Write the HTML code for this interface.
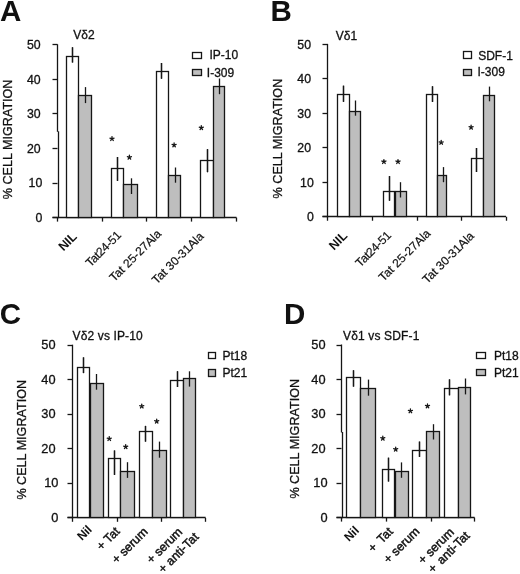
<!DOCTYPE html>
<html><head><meta charset="utf-8"><style>
html,body{margin:0;padding:0;background:#fff;}
svg{display:block;filter:blur(0.4px);}
text{font-family:"Liberation Sans",sans-serif;fill:#111;}
</style></head><body>
<svg width="520" height="574" viewBox="0 0 520 574">
<rect x="0" y="0" width="520" height="574" fill="#fff"/>
<text x="0.0" y="21.4" font-size="29.5" text-anchor="start" font-weight="bold" >A</text>
<text x="73.3" y="38.8" font-size="12" text-anchor="start" font-weight="normal"  stroke="#111" stroke-width="0.3">V&#948;2</text>
<text transform="translate(12.0,199.2) rotate(-90)" font-size="12.6" stroke="#111" stroke-width="0.3">% CELL MIGRATION</text>
<text x="42.3" y="221.8" font-size="12.3" text-anchor="end" font-weight="normal"  stroke="#111" stroke-width="0.3">0</text>
<line x1="52.5" y1="217.5" x2="57.5" y2="217.5" stroke="#161616" stroke-width="1.3"/>
<text x="42.3" y="187.24" font-size="12.3" text-anchor="end" font-weight="normal"  stroke="#111" stroke-width="0.3">10</text>
<line x1="52.5" y1="183.5" x2="57.5" y2="183.5" stroke="#161616" stroke-width="1.3"/>
<text x="40.6" y="152.68" font-size="12.3" text-anchor="end" font-weight="normal"  stroke="#111" stroke-width="0.3">20</text>
<line x1="52.5" y1="148.5" x2="57.5" y2="148.5" stroke="#161616" stroke-width="1.3"/>
<text x="40.6" y="118.12" font-size="12.3" text-anchor="end" font-weight="normal"  stroke="#111" stroke-width="0.3">30</text>
<line x1="52.5" y1="113.5" x2="57.5" y2="113.5" stroke="#161616" stroke-width="1.3"/>
<text x="40.6" y="83.56" font-size="12.3" text-anchor="end" font-weight="normal"  stroke="#111" stroke-width="0.3">40</text>
<line x1="52.5" y1="79.5" x2="57.5" y2="79.5" stroke="#161616" stroke-width="1.3"/>
<text x="40.6" y="49.0" font-size="12.3" text-anchor="end" font-weight="normal"  stroke="#111" stroke-width="0.3">50</text>
<line x1="52.5" y1="44.5" x2="57.5" y2="44.5" stroke="#161616" stroke-width="1.3"/>
<line x1="57.5" y1="44.3" x2="57.5" y2="131.8" stroke="#161616" stroke-width="1.3"/>
<line x1="58.5" y1="131.3" x2="58.5" y2="218.2" stroke="#161616" stroke-width="1.3"/>
<line x1="52.5" y1="217.5" x2="236.5" y2="217.5" stroke="#161616" stroke-width="1.3"/>
<line x1="57.5" y1="217.6" x2="57.5" y2="221.6" stroke="#161616" stroke-width="1.3"/>
<line x1="102.5" y1="217.6" x2="102.5" y2="221.6" stroke="#161616" stroke-width="1.3"/>
<line x1="146.5" y1="217.6" x2="146.5" y2="221.6" stroke="#161616" stroke-width="1.3"/>
<line x1="191.5" y1="217.6" x2="191.5" y2="221.6" stroke="#161616" stroke-width="1.3"/>
<line x1="236.5" y1="217.6" x2="236.5" y2="221.6" stroke="#161616" stroke-width="1.3"/>
<rect x="66.5" y="56.5" width="12.00" height="161.00" fill="#fff" stroke="#161616" stroke-width="1.3"/>
<rect x="78.5" y="95.5" width="13.00" height="122.00" fill="#bebebe" stroke="#161616" stroke-width="1.3"/>
<line x1="72.5" y1="47.3" x2="72.5" y2="62.5" stroke="#161616" stroke-width="1.3"/>
<line x1="72.5" y1="47.3" x2="72.5" y2="62.5" stroke="#161616" stroke-width="1.3"/>
<line x1="85.5" y1="87.1" x2="85.5" y2="103.1" stroke="#161616" stroke-width="1.3"/>
<rect x="111.5" y="168.5" width="12.00" height="49.00" fill="#fff" stroke="#161616" stroke-width="1.3"/>
<rect x="123.5" y="184.5" width="14.00" height="33.00" fill="#bebebe" stroke="#161616" stroke-width="1.3"/>
<line x1="117.5" y1="157" x2="117.5" y2="180.9" stroke="#161616" stroke-width="1.3"/>
<line x1="117.5" y1="157" x2="117.5" y2="180.9" stroke="#161616" stroke-width="1.3"/>
<line x1="131.5" y1="178.3" x2="131.5" y2="194" stroke="#161616" stroke-width="1.3"/>
<rect x="156.5" y="71.5" width="12.00" height="146.00" fill="#fff" stroke="#161616" stroke-width="1.3"/>
<rect x="168.5" y="175.5" width="12.00" height="42.00" fill="#bebebe" stroke="#161616" stroke-width="1.3"/>
<line x1="161.5" y1="63" x2="161.5" y2="78.7" stroke="#161616" stroke-width="1.3"/>
<line x1="161.5" y1="63" x2="161.5" y2="78.7" stroke="#161616" stroke-width="1.3"/>
<line x1="175.5" y1="167.5" x2="175.5" y2="182.7" stroke="#161616" stroke-width="1.3"/>
<rect x="200.5" y="160.5" width="13.00" height="57.00" fill="#fff" stroke="#161616" stroke-width="1.3"/>
<rect x="213.5" y="86.5" width="11.00" height="131.00" fill="#bebebe" stroke="#161616" stroke-width="1.3"/>
<line x1="207.5" y1="149.2" x2="207.5" y2="172.2" stroke="#161616" stroke-width="1.3"/>
<line x1="207.5" y1="149.2" x2="207.5" y2="172.2" stroke="#161616" stroke-width="1.3"/>
<line x1="219.5" y1="78.5" x2="219.5" y2="94.2" stroke="#161616" stroke-width="1.3"/>
<path d="M112.00,138.75L112.00,136.60M112.00,138.75L114.04,138.09M112.00,138.75L109.96,138.09M112.00,138.75L110.74,140.49M112.00,138.75L113.26,140.49" stroke="#161616" stroke-width="1.3" stroke-linecap="round" fill="none"/>
<path d="M129.40,157.40L129.40,155.25M129.40,157.40L131.44,156.74M129.40,157.40L127.36,156.74M129.40,157.40L128.14,159.14M129.40,157.40L130.66,159.14" stroke="#161616" stroke-width="1.3" stroke-linecap="round" fill="none"/>
<path d="M174.10,145.10L174.10,142.95M174.10,145.10L176.14,144.44M174.10,145.10L172.06,144.44M174.10,145.10L172.84,146.84M174.10,145.10L175.36,146.84" stroke="#161616" stroke-width="1.3" stroke-linecap="round" fill="none"/>
<path d="M201.30,127.80L201.30,125.65M201.30,127.80L203.34,127.14M201.30,127.80L199.26,127.14M201.30,127.80L200.04,129.54M201.30,127.80L202.56,129.54" stroke="#161616" stroke-width="1.3" stroke-linecap="round" fill="none"/>
<rect x="192.5" y="52.5" width="9.00" height="6.00" fill="#fff" stroke="#161616" stroke-width="1.3"/>
<rect x="192.5" y="69.5" width="9.00" height="6.00" fill="#bebebe" stroke="#161616" stroke-width="1.3"/>
<text x="209.5" y="59.0" font-size="12" text-anchor="start" font-weight="normal"  stroke="#111" stroke-width="0.3">IP-10</text>
<text x="206.8" y="76.8" font-size="12" text-anchor="start" font-weight="normal"  stroke="#111" stroke-width="0.3">I-309</text>
<text x="270.6" y="21.4" font-size="29.5" text-anchor="start" font-weight="bold" >B</text>
<text x="335.8" y="40.0" font-size="12" text-anchor="start" font-weight="normal"  stroke="#111" stroke-width="0.3">V&#948;1</text>
<text transform="translate(281.8,198.4) rotate(-90)" font-size="12.6" stroke="#111" stroke-width="0.3">% CELL MIGRATION</text>
<text x="313.8" y="220.95" font-size="12.3" text-anchor="end" font-weight="normal"  stroke="#111" stroke-width="0.3">0</text>
<line x1="322.5" y1="216.5" x2="327.5" y2="216.5" stroke="#161616" stroke-width="1.3"/>
<text x="313.8" y="186.5" font-size="12.3" text-anchor="end" font-weight="normal"  stroke="#111" stroke-width="0.3">10</text>
<line x1="322.5" y1="182.5" x2="327.5" y2="182.5" stroke="#161616" stroke-width="1.3"/>
<text x="311.0" y="152.05" font-size="12.3" text-anchor="end" font-weight="normal"  stroke="#111" stroke-width="0.3">20</text>
<line x1="322.5" y1="147.5" x2="327.5" y2="147.5" stroke="#161616" stroke-width="1.3"/>
<text x="311.0" y="117.6" font-size="12.3" text-anchor="end" font-weight="normal"  stroke="#111" stroke-width="0.3">30</text>
<line x1="322.5" y1="113.5" x2="327.5" y2="113.5" stroke="#161616" stroke-width="1.3"/>
<text x="311.0" y="83.15" font-size="12.3" text-anchor="end" font-weight="normal"  stroke="#111" stroke-width="0.3">40</text>
<line x1="322.5" y1="78.5" x2="327.5" y2="78.5" stroke="#161616" stroke-width="1.3"/>
<text x="311.0" y="48.7" font-size="12.3" text-anchor="end" font-weight="normal"  stroke="#111" stroke-width="0.3">50</text>
<line x1="322.5" y1="44.5" x2="327.5" y2="44.5" stroke="#161616" stroke-width="1.3"/>
<line x1="327.5" y1="43.9" x2="327.5" y2="217.35" stroke="#161616" stroke-width="1.3"/>
<line x1="322.5" y1="216.5" x2="506" y2="216.5" stroke="#161616" stroke-width="1.3"/>
<line x1="327.5" y1="216.75" x2="327.5" y2="220.75" stroke="#161616" stroke-width="1.3"/>
<line x1="372.5" y1="216.75" x2="372.5" y2="220.75" stroke="#161616" stroke-width="1.3"/>
<line x1="417.5" y1="216.75" x2="417.5" y2="220.75" stroke="#161616" stroke-width="1.3"/>
<line x1="461.5" y1="216.75" x2="461.5" y2="220.75" stroke="#161616" stroke-width="1.3"/>
<line x1="506.5" y1="216.75" x2="506.5" y2="220.75" stroke="#161616" stroke-width="1.3"/>
<rect x="337.5" y="94.5" width="12.00" height="122.00" fill="#fff" stroke="#161616" stroke-width="1.3"/>
<rect x="349.5" y="111.5" width="11.00" height="105.00" fill="#bebebe" stroke="#161616" stroke-width="1.3"/>
<line x1="343.5" y1="85.7" x2="343.5" y2="101.8" stroke="#161616" stroke-width="1.3"/>
<line x1="343.5" y1="85.7" x2="343.5" y2="101.8" stroke="#161616" stroke-width="1.3"/>
<line x1="355.5" y1="100.5" x2="355.5" y2="115.7" stroke="#161616" stroke-width="1.3"/>
<rect x="383.5" y="191.5" width="11.00" height="25.00" fill="#fff" stroke="#161616" stroke-width="1.3"/>
<rect x="395.5" y="191.5" width="11.00" height="25.00" fill="#bebebe" stroke="#161616" stroke-width="1.3"/>
<line x1="389.5" y1="176.1" x2="389.5" y2="200.7" stroke="#161616" stroke-width="1.3"/>
<line x1="389.5" y1="176.1" x2="389.5" y2="200.7" stroke="#161616" stroke-width="1.3"/>
<line x1="400.5" y1="182.2" x2="400.5" y2="197.5" stroke="#161616" stroke-width="1.3"/>
<rect x="426.5" y="94.5" width="11.00" height="122.00" fill="#fff" stroke="#161616" stroke-width="1.3"/>
<rect x="437.5" y="175.5" width="9.00" height="41.00" fill="#bebebe" stroke="#161616" stroke-width="1.3"/>
<line x1="432.5" y1="86.3" x2="432.5" y2="101.9" stroke="#161616" stroke-width="1.3"/>
<line x1="432.5" y1="86.3" x2="432.5" y2="101.9" stroke="#161616" stroke-width="1.3"/>
<line x1="443.5" y1="167.1" x2="443.5" y2="182.2" stroke="#161616" stroke-width="1.3"/>
<rect x="471.5" y="158.5" width="12.00" height="58.00" fill="#fff" stroke="#161616" stroke-width="1.3"/>
<rect x="483.5" y="95.5" width="11.00" height="121.00" fill="#bebebe" stroke="#161616" stroke-width="1.3"/>
<line x1="476.5" y1="148" x2="476.5" y2="172" stroke="#161616" stroke-width="1.3"/>
<line x1="476.5" y1="148" x2="476.5" y2="172" stroke="#161616" stroke-width="1.3"/>
<line x1="489.5" y1="86.6" x2="489.5" y2="101.3" stroke="#161616" stroke-width="1.3"/>
<path d="M383.90,161.70L383.90,159.55M383.90,161.70L385.94,161.04M383.90,161.70L381.86,161.04M383.90,161.70L382.64,163.44M383.90,161.70L385.16,163.44" stroke="#161616" stroke-width="1.3" stroke-linecap="round" fill="none"/>
<path d="M398.00,161.70L398.00,159.55M398.00,161.70L400.04,161.04M398.00,161.70L395.96,161.04M398.00,161.70L396.74,163.44M398.00,161.70L399.26,163.44" stroke="#161616" stroke-width="1.3" stroke-linecap="round" fill="none"/>
<path d="M441.20,142.50L441.20,140.35M441.20,142.50L443.24,141.84M441.20,142.50L439.16,141.84M441.20,142.50L439.94,144.24M441.20,142.50L442.46,144.24" stroke="#161616" stroke-width="1.3" stroke-linecap="round" fill="none"/>
<path d="M471.10,127.40L471.10,125.25M471.10,127.40L473.14,126.74M471.10,127.40L469.06,126.74M471.10,127.40L469.84,129.14M471.10,127.40L472.36,129.14" stroke="#161616" stroke-width="1.3" stroke-linecap="round" fill="none"/>
<rect x="463.5" y="51.5" width="8.00" height="7.00" fill="#fff" stroke="#161616" stroke-width="1.3"/>
<rect x="463.5" y="69.5" width="8.00" height="6.00" fill="#bebebe" stroke="#161616" stroke-width="1.3"/>
<text x="478.2" y="59.5" font-size="12" text-anchor="start" font-weight="normal"  stroke="#111" stroke-width="0.3">SDF-1</text>
<text x="477.5" y="76.3" font-size="12" text-anchor="start" font-weight="normal"  stroke="#111" stroke-width="0.3">I-309</text>
<text x="-0.3" y="324.2" font-size="29.5" text-anchor="start" font-weight="bold" >C</text>
<text x="72.6" y="339.6" font-size="12" text-anchor="start" font-weight="normal" letter-spacing="0.12" stroke="#111" stroke-width="0.3">V&#948;2 vs IP-10</text>
<text transform="translate(26.4,499.6) rotate(-90)" font-size="12.6" stroke="#111" stroke-width="0.3">% CELL MIGRATION</text>
<text x="58.4" y="521.8" font-size="12.8" text-anchor="end" font-weight="normal"  stroke="#111" stroke-width="0.3">0</text>
<line x1="67.5" y1="517.5" x2="72.5" y2="517.5" stroke="#161616" stroke-width="1.3"/>
<text x="58.4" y="487.3" font-size="12.8" text-anchor="end" font-weight="normal"  stroke="#111" stroke-width="0.3">10</text>
<line x1="67.5" y1="483.5" x2="72.5" y2="483.5" stroke="#161616" stroke-width="1.3"/>
<text x="55.6" y="452.8" font-size="12.8" text-anchor="end" font-weight="normal"  stroke="#111" stroke-width="0.3">20</text>
<line x1="67.5" y1="448.5" x2="72.5" y2="448.5" stroke="#161616" stroke-width="1.3"/>
<text x="55.6" y="418.3" font-size="12.8" text-anchor="end" font-weight="normal"  stroke="#111" stroke-width="0.3">30</text>
<line x1="67.5" y1="414.5" x2="72.5" y2="414.5" stroke="#161616" stroke-width="1.3"/>
<text x="55.6" y="383.8" font-size="12.8" text-anchor="end" font-weight="normal"  stroke="#111" stroke-width="0.3">40</text>
<line x1="67.5" y1="379.5" x2="72.5" y2="379.5" stroke="#161616" stroke-width="1.3"/>
<text x="55.6" y="349.3" font-size="12.8" text-anchor="end" font-weight="normal"  stroke="#111" stroke-width="0.3">50</text>
<line x1="67.5" y1="345.5" x2="72.5" y2="345.5" stroke="#161616" stroke-width="1.3"/>
<line x1="72.5" y1="344.7" x2="72.5" y2="518.4" stroke="#161616" stroke-width="1.3"/>
<line x1="67.5" y1="517.5" x2="205.6" y2="517.5" stroke="#161616" stroke-width="1.3"/>
<line x1="72.5" y1="517.8" x2="72.5" y2="521.8" stroke="#161616" stroke-width="1.3"/>
<line x1="117.5" y1="517.8" x2="117.5" y2="521.8" stroke="#161616" stroke-width="1.3"/>
<line x1="161.5" y1="517.8" x2="161.5" y2="521.8" stroke="#161616" stroke-width="1.3"/>
<line x1="205.5" y1="517.8" x2="205.5" y2="521.8" stroke="#161616" stroke-width="1.3"/>
<rect x="77.5" y="367.5" width="12.00" height="150.00" fill="#fff" stroke="#161616" stroke-width="1.3"/>
<rect x="90.5" y="383.5" width="13.00" height="134.00" fill="#bebebe" stroke="#161616" stroke-width="1.3"/>
<line x1="83.5" y1="357.4" x2="83.5" y2="373.1" stroke="#161616" stroke-width="1.3"/>
<line x1="83.5" y1="357.4" x2="83.5" y2="373.1" stroke="#161616" stroke-width="1.3"/>
<line x1="96.5" y1="374" x2="96.5" y2="389.7" stroke="#161616" stroke-width="1.3"/>
<rect x="108.5" y="458.5" width="12.00" height="59.00" fill="#fff" stroke="#161616" stroke-width="1.3"/>
<rect x="120.5" y="471.5" width="14.00" height="46.00" fill="#bebebe" stroke="#161616" stroke-width="1.3"/>
<line x1="114.5" y1="450.5" x2="114.5" y2="474.9" stroke="#161616" stroke-width="1.3"/>
<line x1="114.5" y1="450.5" x2="114.5" y2="474.9" stroke="#161616" stroke-width="1.3"/>
<line x1="127.5" y1="462.2" x2="127.5" y2="477.9" stroke="#161616" stroke-width="1.3"/>
<rect x="139.5" y="431.5" width="13.00" height="86.00" fill="#fff" stroke="#161616" stroke-width="1.3"/>
<rect x="152.5" y="450.5" width="14.00" height="67.00" fill="#bebebe" stroke="#161616" stroke-width="1.3"/>
<line x1="145.5" y1="425.9" x2="145.5" y2="441.6" stroke="#161616" stroke-width="1.3"/>
<line x1="145.5" y1="425.9" x2="145.5" y2="441.6" stroke="#161616" stroke-width="1.3"/>
<line x1="159.5" y1="441.6" x2="159.5" y2="457.7" stroke="#161616" stroke-width="1.3"/>
<rect x="170.5" y="380.5" width="13.00" height="137.00" fill="#fff" stroke="#161616" stroke-width="1.3"/>
<rect x="183.5" y="378.5" width="12.00" height="139.00" fill="#bebebe" stroke="#161616" stroke-width="1.3"/>
<line x1="177.5" y1="371.3" x2="177.5" y2="387" stroke="#161616" stroke-width="1.3"/>
<line x1="177.5" y1="371.3" x2="177.5" y2="387" stroke="#161616" stroke-width="1.3"/>
<line x1="189.5" y1="371.3" x2="189.5" y2="386.6" stroke="#161616" stroke-width="1.3"/>
<path d="M109.25,438.75L109.25,436.60M109.25,438.75L111.29,438.09M109.25,438.75L107.21,438.09M109.25,438.75L107.99,440.49M109.25,438.75L110.51,440.49" stroke="#161616" stroke-width="1.3" stroke-linecap="round" fill="none"/>
<path d="M125.70,446.80L125.70,444.65M125.70,446.80L127.74,446.14M125.70,446.80L123.66,446.14M125.70,446.80L124.44,448.54M125.70,446.80L126.96,448.54" stroke="#161616" stroke-width="1.3" stroke-linecap="round" fill="none"/>
<path d="M141.75,406.25L141.75,404.10M141.75,406.25L143.79,405.59M141.75,406.25L139.71,405.59M141.75,406.25L140.49,407.99M141.75,406.25L143.01,407.99" stroke="#161616" stroke-width="1.3" stroke-linecap="round" fill="none"/>
<path d="M156.70,421.30L156.70,419.15M156.70,421.30L158.74,420.64M156.70,421.30L154.66,420.64M156.70,421.30L155.44,423.04M156.70,421.30L157.96,423.04" stroke="#161616" stroke-width="1.3" stroke-linecap="round" fill="none"/>
<rect x="208.5" y="352.5" width="7.00" height="6.00" fill="#fff" stroke="#161616" stroke-width="1.3"/>
<rect x="208.5" y="369.5" width="7.00" height="7.00" fill="#bebebe" stroke="#161616" stroke-width="1.3"/>
<text x="222.4" y="360.2" font-size="12" text-anchor="start" font-weight="normal"  stroke="#111" stroke-width="0.3">Pt18</text>
<text x="222.4" y="377.1" font-size="12" text-anchor="start" font-weight="normal"  stroke="#111" stroke-width="0.3">Pt21</text>
<text x="283.9" y="324.0" font-size="29.5" text-anchor="start" font-weight="bold" >D</text>
<text x="343.0" y="340.0" font-size="12" text-anchor="start" font-weight="normal" letter-spacing="0.15" stroke="#111" stroke-width="0.3">V&#948;1 vs SDF-1</text>
<text transform="translate(299.2,498.6) rotate(-90)" font-size="12.6" stroke="#111" stroke-width="0.3">% CELL MIGRATION</text>
<text x="327.5" y="521.6" font-size="12.8" text-anchor="end" font-weight="normal"  stroke="#111" stroke-width="0.3">0</text>
<line x1="336.5" y1="517.5" x2="341.5" y2="517.5" stroke="#161616" stroke-width="1.3"/>
<text x="327.5" y="487.08" font-size="12.8" text-anchor="end" font-weight="normal"  stroke="#111" stroke-width="0.3">10</text>
<line x1="336.5" y1="483.5" x2="341.5" y2="483.5" stroke="#161616" stroke-width="1.3"/>
<text x="325.5" y="452.56" font-size="12.8" text-anchor="end" font-weight="normal"  stroke="#111" stroke-width="0.3">20</text>
<line x1="336.5" y1="448.5" x2="341.5" y2="448.5" stroke="#161616" stroke-width="1.3"/>
<text x="325.5" y="418.04" font-size="12.8" text-anchor="end" font-weight="normal"  stroke="#111" stroke-width="0.3">30</text>
<line x1="336.5" y1="414.5" x2="341.5" y2="414.5" stroke="#161616" stroke-width="1.3"/>
<text x="325.5" y="383.52" font-size="12.8" text-anchor="end" font-weight="normal"  stroke="#111" stroke-width="0.3">40</text>
<line x1="336.5" y1="379.5" x2="341.5" y2="379.5" stroke="#161616" stroke-width="1.3"/>
<text x="325.5" y="349.0" font-size="12.8" text-anchor="end" font-weight="normal"  stroke="#111" stroke-width="0.3">50</text>
<line x1="336.5" y1="345.5" x2="341.5" y2="345.5" stroke="#161616" stroke-width="1.3"/>
<line x1="341.5" y1="344.5" x2="341.5" y2="432.5" stroke="#161616" stroke-width="1.3"/>
<line x1="342.5" y1="432.0" x2="342.5" y2="518.2" stroke="#161616" stroke-width="1.3"/>
<line x1="336.5" y1="517.5" x2="474.6" y2="517.5" stroke="#161616" stroke-width="1.3"/>
<line x1="341.5" y1="517.6" x2="341.5" y2="521.6" stroke="#161616" stroke-width="1.3"/>
<line x1="386.5" y1="517.6" x2="386.5" y2="521.6" stroke="#161616" stroke-width="1.3"/>
<line x1="431.5" y1="517.6" x2="431.5" y2="521.6" stroke="#161616" stroke-width="1.3"/>
<line x1="474.5" y1="517.6" x2="474.5" y2="521.6" stroke="#161616" stroke-width="1.3"/>
<rect x="346.5" y="377.5" width="14.00" height="140.00" fill="#fff" stroke="#161616" stroke-width="1.3"/>
<rect x="360.5" y="388.5" width="15.00" height="129.00" fill="#bebebe" stroke="#161616" stroke-width="1.3"/>
<line x1="353.5" y1="370.3" x2="353.5" y2="386.6" stroke="#161616" stroke-width="1.3"/>
<line x1="353.5" y1="370.3" x2="353.5" y2="386.6" stroke="#161616" stroke-width="1.3"/>
<line x1="368.5" y1="379.6" x2="368.5" y2="395.7" stroke="#161616" stroke-width="1.3"/>
<rect x="382.5" y="469.5" width="12.00" height="48.00" fill="#fff" stroke="#161616" stroke-width="1.3"/>
<rect x="395.5" y="471.5" width="13.00" height="46.00" fill="#bebebe" stroke="#161616" stroke-width="1.3"/>
<line x1="388.5" y1="457.7" x2="388.5" y2="481.5" stroke="#161616" stroke-width="1.3"/>
<line x1="388.5" y1="457.7" x2="388.5" y2="481.5" stroke="#161616" stroke-width="1.3"/>
<line x1="401.5" y1="462.4" x2="401.5" y2="477.8" stroke="#161616" stroke-width="1.3"/>
<rect x="412.5" y="450.5" width="14.00" height="67.00" fill="#fff" stroke="#161616" stroke-width="1.3"/>
<rect x="426.5" y="431.5" width="13.00" height="86.00" fill="#bebebe" stroke="#161616" stroke-width="1.3"/>
<line x1="419.5" y1="441.6" x2="419.5" y2="456.9" stroke="#161616" stroke-width="1.3"/>
<line x1="419.5" y1="441.6" x2="419.5" y2="456.9" stroke="#161616" stroke-width="1.3"/>
<line x1="433.5" y1="424.2" x2="433.5" y2="439.5" stroke="#161616" stroke-width="1.3"/>
<rect x="444.5" y="388.5" width="14.00" height="129.00" fill="#fff" stroke="#161616" stroke-width="1.3"/>
<rect x="458.5" y="387.5" width="12.00" height="130.00" fill="#bebebe" stroke="#161616" stroke-width="1.3"/>
<line x1="449.5" y1="379.4" x2="449.5" y2="395.3" stroke="#161616" stroke-width="1.3"/>
<line x1="449.5" y1="379.4" x2="449.5" y2="395.3" stroke="#161616" stroke-width="1.3"/>
<line x1="465.5" y1="378.5" x2="465.5" y2="394.4" stroke="#161616" stroke-width="1.3"/>
<path d="M382.80,438.40L382.80,436.25M382.80,438.40L384.84,437.74M382.80,438.40L380.76,437.74M382.80,438.40L381.54,440.14M382.80,438.40L384.06,440.14" stroke="#161616" stroke-width="1.3" stroke-linecap="round" fill="none"/>
<path d="M395.70,449.30L395.70,447.15M395.70,449.30L397.74,448.64M395.70,449.30L393.66,448.64M395.70,449.30L394.44,451.04M395.70,449.30L396.96,451.04" stroke="#161616" stroke-width="1.3" stroke-linecap="round" fill="none"/>
<path d="M410.40,411.00L410.40,408.85M410.40,411.00L412.44,410.34M410.40,411.00L408.36,410.34M410.40,411.00L409.14,412.74M410.40,411.00L411.66,412.74" stroke="#161616" stroke-width="1.3" stroke-linecap="round" fill="none"/>
<path d="M427.50,406.10L427.50,403.95M427.50,406.10L429.54,405.44M427.50,406.10L425.46,405.44M427.50,406.10L426.24,407.84M427.50,406.10L428.76,407.84" stroke="#161616" stroke-width="1.3" stroke-linecap="round" fill="none"/>
<rect x="476.5" y="352.5" width="9.00" height="6.00" fill="#fff" stroke="#161616" stroke-width="1.3"/>
<rect x="476.5" y="369.5" width="9.00" height="6.00" fill="#bebebe" stroke="#161616" stroke-width="1.3"/>
<text x="494.0" y="360.4" font-size="12" text-anchor="start" font-weight="normal"  stroke="#111" stroke-width="0.3">Pt18</text>
<text x="494.0" y="377.3" font-size="12" text-anchor="start" font-weight="normal"  stroke="#111" stroke-width="0.3">Pt21</text>
<text transform="translate(77.73,237.37) rotate(-45)" text-anchor="end" font-size="12.5" font-weight="bold">NIL</text>
<text transform="translate(121.82,236.08) rotate(-45)" text-anchor="end" font-size="12" stroke="#111" stroke-width="0.2" letter-spacing="-0.28">Tat24-51</text>
<text transform="translate(161.91,234.59) rotate(-45)" text-anchor="end" font-size="12" stroke="#111" stroke-width="0.2">Tat 25-27Ala</text>
<text transform="translate(204.42,237.08) rotate(-45)" text-anchor="end" font-size="12" stroke="#111" stroke-width="0.2">Tat 30-31Ala</text>
<text transform="translate(348.17,236.43) rotate(-45)" text-anchor="end" font-size="12.5" font-weight="bold">NIL</text>
<text transform="translate(391.79,236.21) rotate(-45)" text-anchor="end" font-size="12" stroke="#111" stroke-width="0.2" letter-spacing="-0.28">Tat24-51</text>
<text transform="translate(431.25,234.25) rotate(-45)" text-anchor="end" font-size="12" stroke="#111" stroke-width="0.2">Tat 25-27Ala</text>
<text transform="translate(474.83,236.67) rotate(-45)" text-anchor="end" font-size="12" stroke="#111" stroke-width="0.2">Tat 30-31Ala</text>
<text transform="translate(92.73,530.27) rotate(-45)" text-anchor="end" font-size="12" font-weight="bold">Nil</text>
<text transform="translate(120.47,532.13) rotate(-45)" text-anchor="end" font-size="12.3" stroke="#111" stroke-width="0.45">+ Tat</text>
<text transform="translate(148.38,532.62) rotate(-45)" text-anchor="end" font-size="12.3" stroke="#111" stroke-width="0.45">+ serum</text>
<text transform="translate(183.11,532.69) rotate(-45)" text-anchor="end" font-size="12.3" stroke="#111" stroke-width="0.45">+ serum</text>
<text transform="translate(199.37,537.63) rotate(-45)" text-anchor="end" font-size="12.3" stroke="#111" stroke-width="0.45">+ anti-Tat</text>
<text transform="translate(359.80,531.20) rotate(-45)" text-anchor="end" font-size="12" font-weight="bold">Nil</text>
<text transform="translate(393.57,532.43) rotate(-45)" text-anchor="end" font-size="12.3" stroke="#111" stroke-width="0.45" word-spacing="2.2">+ Tat</text>
<text transform="translate(420.25,532.25) rotate(-45)" text-anchor="end" font-size="12.3" stroke="#111" stroke-width="0.45">+ serum</text>
<text transform="translate(454.68,533.02) rotate(-45)" text-anchor="end" font-size="12.3" stroke="#111" stroke-width="0.45">+ serum</text>
<text transform="translate(470.31,536.49) rotate(-45)" text-anchor="end" font-size="12.3" stroke="#111" stroke-width="0.45" word-spacing="1.9">+ anti-Tat</text>
</svg>
</body></html>
